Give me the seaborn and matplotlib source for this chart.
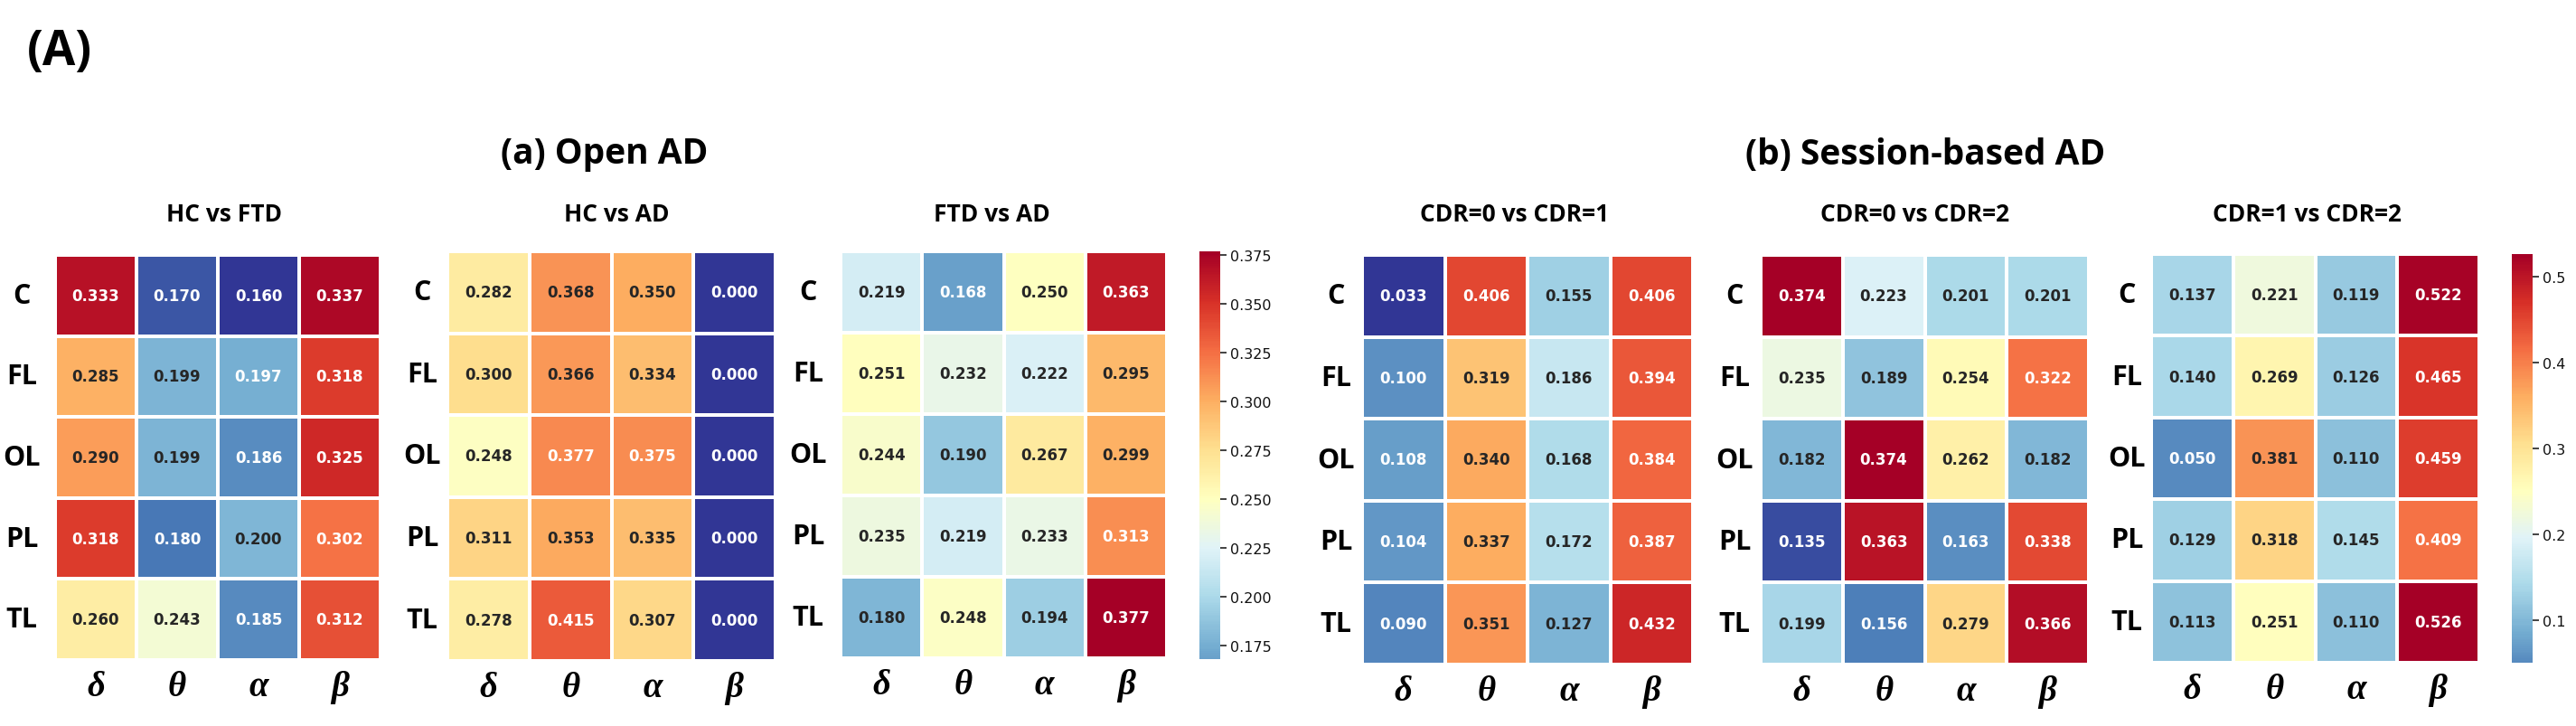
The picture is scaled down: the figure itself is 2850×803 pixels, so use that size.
import numpy as np
import pandas as pd
import matplotlib
matplotlib.use("Agg")
import matplotlib.pyplot as plt
import seaborn as sns

rows = ["C", "FL", "OL", "PL", "TL"]
bands = ["δ", "θ", "α", "β"]

hc_ftd = [[0.333, 0.170, 0.160, 0.337],
          [0.285, 0.199, 0.197, 0.318],
          [0.290, 0.199, 0.186, 0.325],
          [0.318, 0.180, 0.200, 0.302],
          [0.260, 0.243, 0.185, 0.312]]
hc_ad = [[0.282, 0.368, 0.350, 0.000],
         [0.300, 0.366, 0.334, 0.000],
         [0.248, 0.377, 0.375, 0.000],
         [0.311, 0.353, 0.335, 0.000],
         [0.278, 0.415, 0.307, 0.000]]
ftd_ad = [[0.219, 0.168, 0.250, 0.363],
          [0.251, 0.232, 0.222, 0.295],
          [0.244, 0.190, 0.267, 0.299],
          [0.235, 0.219, 0.233, 0.313],
          [0.180, 0.248, 0.194, 0.377]]
cdr01 = [[0.033, 0.406, 0.155, 0.406],
         [0.100, 0.319, 0.186, 0.394],
         [0.108, 0.340, 0.168, 0.384],
         [0.104, 0.337, 0.172, 0.387],
         [0.090, 0.351, 0.127, 0.432]]
cdr02 = [[0.374, 0.223, 0.201, 0.201],
         [0.235, 0.189, 0.254, 0.322],
         [0.182, 0.374, 0.262, 0.182],
         [0.135, 0.363, 0.163, 0.338],
         [0.199, 0.156, 0.279, 0.366]]
cdr12 = [[0.137, 0.221, 0.119, 0.522],
         [0.140, 0.269, 0.126, 0.465],
         [0.050, 0.381, 0.110, 0.459],
         [0.129, 0.318, 0.145, 0.409],
         [0.113, 0.251, 0.110, 0.526]]

titles = ["HC vs FTD", "HC vs AD", "FTD vs AD",
          "CDR=0 vs CDR=1", "CDR=0 vs CDR=2", "CDR=1 vs CDR=2"]
datasets = [hc_ftd, hc_ad, ftd_ad, cdr01, cdr02, cdr12]
group_titles = ["(a) Open AD", "(b) Session-based AD"]

sns.set_style("white")
plt.rcParams['font.family'] = ['DejaVu Sans']

W, H = 2850, 804
PT = 0.72  # points per pixel at dpi 100
fig = plt.figure(figsize=(W / 100, H / 100), dpi=100)

def box(x0, y0, x1, y1):
    return [x0 / W, 1 - y1 / H, (x1 - x0) / W, (y1 - y0) / H]

# pixel boxes (left, top, right, bottom)
panel_boxes = [(61, 283, 421, 731), (495, 279, 858, 732), (930, 279, 1291, 729),
               (1507, 283, 1873, 736), (1948, 283, 2311, 736), (2380, 282, 2743, 734)]
cbar_boxes = {2: (1327, 279, 1350, 730), 5: (2779, 282, 2802, 734)}
title_x = [248, 682, 1097, 1676, 2119, 2552]
ylab_offset = [37, 28, 36, 29, 29, 27]
tick_len_px = [7, 7, 7, 1.5, 1.5, 1.5]

bold = dict(family="Open Sans", weight="bold", color="black")

for i, (data, title, pb) in enumerate(zip(datasets, titles, panel_boxes)):
    ax = fig.add_axes(box(*pb))
    df = pd.DataFrame(data, index=rows, columns=bands)
    has_cbar = i in cbar_boxes
    kw = {}
    if has_cbar:
        kw["cbar_ax"] = fig.add_axes(box(*cbar_boxes[i]))
    sns.heatmap(df, ax=ax, cmap="RdYlBu_r", center=0.25, annot=True, fmt=".3f",
                linewidths=1.5, linecolor="white", cbar=has_cbar,
                annot_kws={"size": 12, "weight": "bold"}, **kw)
    fig.text(title_x[i] / W, 1 - 245 / H, title, fontsize=19, ha="center",
             va="baseline", **bold)
    tl = tick_len_px[i]
    ax.set_yticklabels(rows, rotation=0, fontsize=22, ha="center", va="center", **bold)
    ax.set_xticklabels(bands, rotation=0, fontsize=28, family="Liberation Serif",
                       weight="bold", style="italic", color="black")
    ax.tick_params(axis="both", length=tl * PT, width=1.3, color="#222222")
    ax.tick_params(axis="y", pad=(ylab_offset[i] - tl) * PT)
    ax.tick_params(axis="x", pad=(11 - tl) * PT)
    ax.set_xlabel("")
    ax.set_ylabel("")
    if has_cbar:
        cax = kw["cbar_ax"]
        cax.tick_params(labelsize=11.5, length=5, width=1.2, pad=3, color="#222222",
                        labelcolor="#111111")

fig.text(30 / W, 1 - 72 / H, "(A)", fontsize=38, ha="left", va="baseline", **bold)
fig.text(669 / W, 1 - 181 / H, group_titles[0], fontsize=28, ha="center", va="baseline", **bold)
fig.text(2130 / W, 1 - 182 / H, group_titles[1], fontsize=28, ha="center", va="baseline", **bold)

fig.savefig("out.png", dpi=100)
